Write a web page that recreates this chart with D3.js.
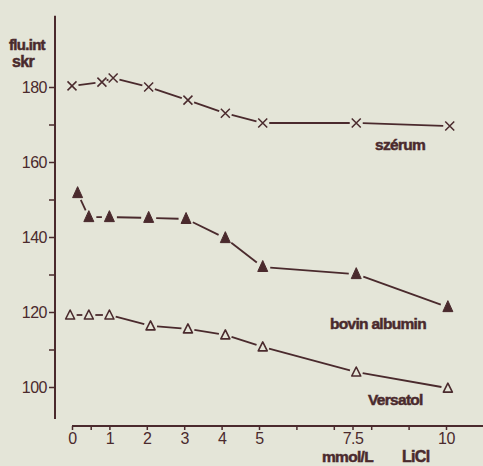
<!DOCTYPE html>
<html>
<head>
<meta charset="utf-8">
<script src="https://cdn.jsdelivr.net/npm/d3@7"></script>
<style>
  body { margin: 0; background: #e4e5d8; }
  svg { display: block; }
  text { font-family: "Liberation Sans", Arial, sans-serif; fill: #4d2c30; }
</style>
</head>
<body>
<svg id="chart" width="483" height="466"></svg>
<script>
// values (LiCl concentration, mmol/L -> fluorescence intensity)
var serumX = [0, 0.8, 1.1, 2.05, 3.1, 4.1, 5.1, 7.6, 10.1];
var serumY = [180.3, 181.3, 182.4, 180, 176.5, 173, 170.4, 170.4, 169.6];
var bovinX = [0.15, 0.45, 1, 2.05, 3.05, 4.1, 5.1, 7.6, 10.05];
var bovinY = [151.7, 145.3, 145.3, 145.1, 144.8, 139.7, 132, 130.1, 121.3];
var versatolX = [-0.05, 0.45, 1, 2.1, 3.1, 4.1, 5.1, 7.6, 10.05];
var versatolY = [119.2, 119.2, 119.2, 116.3, 115.5, 113.9, 110.7, 104, 99.7];

var xTicks = [0, 0.5, 1, 2, 3, 4, 5, 6, 7, 7.5, 8, 9, 10];
var xTickLabels = [0, 1, 2, 3, 4, 5, 7.5, 10];
var yTicks = [100, 110, 120, 130, 140, 150, 160, 170, 180];
var yTickLabels = [100, 120, 140, 160, 180];

(function fig_licl() {
  var svg = d3.select("#chart"),
      ink = "#4a2a2d",
      bg = "#e4e5d8";

  var x = d3.scaleLinear().domain([0, 10]).range([72, 446]);
  var y = d3.scaleLinear().domain([100, 180]).range([387, 87]);

  // y axis
  var yAxis = svg.append("g")
      .attr("transform", "translate(55,0)")
      .call(d3.axisLeft(y)
        .tickValues(yTicks)
        .tickSize(6)
        .tickPadding(2)
        .tickFormat(function(d) { return yTickLabels.indexOf(d) >= 0 ? d : ""; }));
  yAxis.select(".domain").remove();
  yAxis.append("line")
      .attr("y1", y(199)).attr("y2", y(91.5))
      .attr("stroke", ink).attr("stroke-width", 2);
  yAxis.selectAll(".tick line").attr("stroke", ink).attr("stroke-width", 1.5);
  yAxis.selectAll(".tick text")
      .style("font-size", "16px").style("fill", ink).attr("letter-spacing", "-0.5");

  // x axis
  var xAxis = svg.append("g")
      .attr("transform", "translate(0,426)")
      .call(d3.axisBottom(x)
        .tickValues(xTicks)
        .tickSize(4)
        .tickPadding(3)
        .tickFormat(function(d) { return xTickLabels.indexOf(d) >= 0 ? d : ""; }));
  xAxis.select(".domain").remove();
  xAxis.append("line")
      .attr("x1", x(0)).attr("x2", 483)
      .attr("stroke", ink).attr("stroke-width", 2);
  xAxis.selectAll(".tick line").attr("stroke", ink).attr("stroke-width", 1.5);
  xAxis.selectAll(".tick text")
      .style("font-size", "16px").style("fill", ink).attr("letter-spacing", "-0.5");

  // broken connecting lines, cut short around each marker
  function drawSeries(xs, ys, gap) {
    var pts = xs.map(function(d, i) { return [x(d), y(ys[i])]; });
    var segs = d3.pairs(pts);
    svg.append("g").selectAll("line")
      .data(segs)
      .enter().append("line")
        .attr("x1", function(s) { return cut(s, gap)[0][0]; })
        .attr("y1", function(s) { return cut(s, gap)[0][1]; })
        .attr("x2", function(s) { return cut(s, gap)[1][0]; })
        .attr("y2", function(s) { return cut(s, gap)[1][1]; })
        .attr("stroke", ink)
        .attr("stroke-width", 1.8);
    return pts;
  }
  function cut(s, gap) {
    var dx = s[1][0] - s[0][0], dy = s[1][1] - s[0][1],
        len = Math.sqrt(dx * dx + dy * dy),
        g = Math.min(gap, len / 2 - 1),
        ux = dx / len, uy = dy / len;
    return [[s[0][0] + ux * g, s[0][1] + uy * g], [s[1][0] - ux * g, s[1][1] - uy * g]];
  }

  var serumPts = drawSeries(serumX, serumY, 6.5);
  var bovinPts = drawSeries(bovinX, bovinY, 7.5);
  var versPts = drawSeries(versatolX, versatolY, 6.5);

  // markers
  svg.append("g").selectAll("path")
    .data(serumPts)
    .enter().append("path")
      .attr("transform", function(p) { return "translate(" + p[0] + "," + p[1] + ")"; })
      .attr("d", "M-4.5,-4.5L4.5,4.5M-4.5,4.5L4.5,-4.5")
      .attr("stroke", ink).attr("stroke-width", 1.5).attr("fill", "none");

  svg.append("g").selectAll("path")
    .data(bovinPts)
    .enter().append("path")
      .attr("transform", function(p) { return "translate(" + p[0] + "," + p[1] + ")"; })
      .attr("d", "M0,-6.5L5,4.5L-5,4.5Z")
      .attr("fill", ink).attr("stroke", ink).attr("stroke-width", 1);

  svg.append("g").selectAll("path")
    .data(versPts)
    .enter().append("path")
      .attr("transform", function(p) { return "translate(" + p[0] + "," + p[1] + ")"; })
      .attr("d", "M0,-5L4.5,4L-4.5,4Z")
      .attr("fill", bg).attr("stroke", ink).attr("stroke-width", 1.6)
      .attr("stroke-linejoin", "round");

  // labels, heavy like the original lettering
  function label(tx, ty, s, size) {
    svg.append("text").attr("x", tx).attr("y", ty).text(s)
      .style("font-size", size + "px").style("font-weight", "bold")
      .style("fill", ink)
      .attr("stroke", ink).attr("stroke-width", 0.5)
      .attr("letter-spacing", "-0.7");
  }
  label(9, 50, "flu.int", 15);
  label(12, 67, "skr", 16);
  label(375, 150, "szérum", 15.5);
  label(330, 329, "bovin albumin", 15.5);
  label(368, 405, "Versatol", 15.5);
  label(322, 462, "mmol/L", 15.5);
  label(402, 462, "LiCl", 16);
})();
</script>
</body>
</html>
